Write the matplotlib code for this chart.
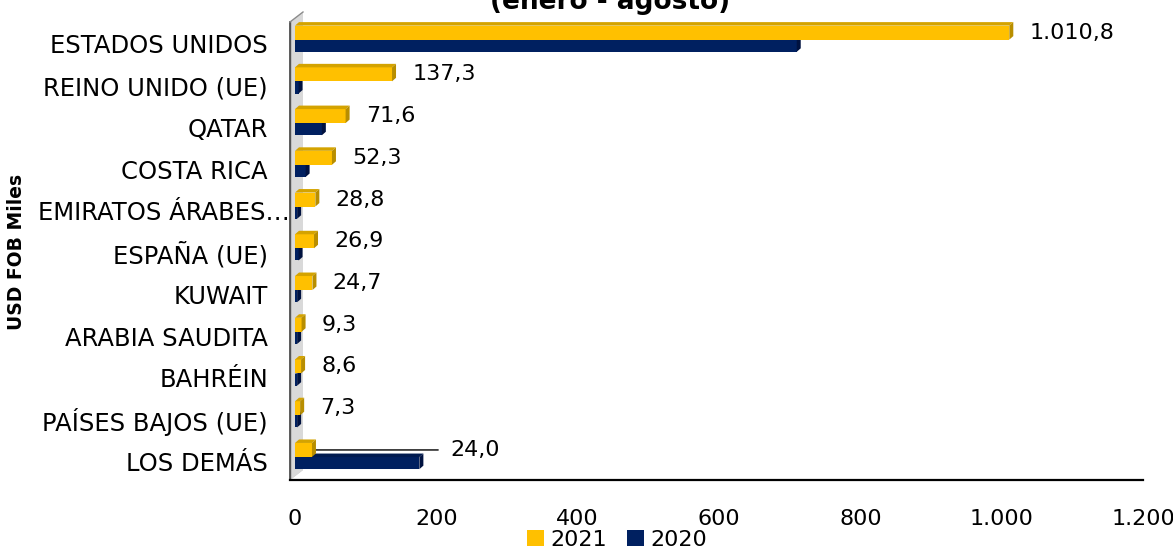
import matplotlib
matplotlib.use("Agg")
import matplotlib.pyplot as plt
from matplotlib.patches import Polygon, Patch
import matplotlib.transforms as mtransforms
import numpy as np

categories = ["ESTADOS UNIDOS", "REINO UNIDO (UE)", "QATAR", "COSTA RICA",
              "EMIRATOS ÁRABES…", "ESPAÑA (UE)", "KUWAIT", "ARABIA SAUDITA",
              "BAHRÉIN", "PAÍSES BAJOS (UE)", "LOS DEMÁS"]
values_2021 = [1010.8, 137.3, 71.6, 52.3, 28.8, 26.9, 24.7, 9.3, 8.6, 7.3, 24.0]
values_2020 = [710.0, 5.0, 38.0, 15.0, 3.0, 5.0, 3.0, 3.0, 3.0, 3.0, 176.0]
labels_2021 = ["1.010,8", "137,3", "71,6", "52,3", "28,8", "26,9", "24,7", "9,3", "8,6", "7,3", "24,0"]
xticks = [0, 200, 400, 600, 800, 1000, 1200]
xtick_labels = ["0", "200", "400", "600", "800", "1.000", "1.200"]
series_names = ["2021", "2020"]

YEL, YEL_TOP, YEL_SIDE = "#FFC000", "#D4A300", "#B88E00"
NAV, NAV_TOP, NAV_SIDE = "#002060", "#001A50", "#001240"

W, H = 1173, 551
fig = plt.figure(figsize=(W / 100, H / 100), dpi=100)
ax_left, ax_right, ax_top, ax_bot = 295, 1143, 18, 480
ax = fig.add_axes([ax_left / W, 1 - ax_bot / H, (ax_right - ax_left) / W, (ax_bot - ax_top) / H])

ymax_data = 10.45
ymin_data = -0.62
ax.set_xlim(0, 1200)
ax.set_ylim(ymax_data, ymin_data)

# depth of 3D faces in data units
px_x = 1200 / (ax_right - ax_left)
px_y = (ymax_data - ymin_data) / (ax_bot - ax_top)
ddx = 4 * px_x
ddy = 3.5 * px_y

y = np.arange(len(categories))
h21, h20 = 0.335, 0.29
c21 = y - 0.27
c20 = y + 0.045


def bar3d(vals, centers, height, front, top, side, z):
    ax.barh(centers, vals, height=height, color=front, zorder=z, linewidth=0)
    for v, c in zip(vals, centers):
        yt = c - height / 2
        yb = c + height / 2
        ax.add_patch(Polygon([(0, yt), (v, yt), (v + ddx, yt - ddy), (ddx, yt - ddy)],
                             closed=True, facecolor=top, edgecolor="none", zorder=z))
        ax.add_patch(Polygon([(v, yb), (v, yt), (v + ddx, yt - ddy), (v + ddx, yb - ddy)],
                             closed=True, facecolor=side, edgecolor="none", zorder=z))


bar3d(values_2020, c20, h20, NAV, NAV_TOP, NAV_SIDE, 3)
bar3d(values_2021, c21, h21, YEL, YEL_TOP, YEL_SIDE, 4)

# value labels
for i, (v, c, lab) in enumerate(zip(values_2021, c21, labels_2021)):
    if categories[i] == "LOS DEMÁS":
        ax.annotate(lab, xy=(v + ddx, c), xytext=(97, 0), textcoords="offset points",
                    va="center", ha="left", fontsize=16,
                    arrowprops=dict(arrowstyle="-", color="black", lw=1,
                                    shrinkA=7, shrinkB=0, relpos=(0, 0.5)))
    else:
        ax.annotate(lab, xy=(v, c), xytext=(14.5, 0), textcoords="offset points",
                    va="center", ha="left", fontsize=16)

ax.set_yticks(y)
ax.set_yticklabels(categories, fontsize=17.5)
ax.set_xticks(xticks)
ax.set_xticklabels(xtick_labels, fontsize=16)
ax.tick_params(axis="y", length=0, pad=19.5)
ax.tick_params(axis="x", length=0, pad=21)
for lbl in ax.get_yticklabels():
    if lbl.get_text().endswith("…"):
        lbl.set_transform(lbl.get_transform() +
                          mtransforms.ScaledTranslation(22 / 100, 0, fig.dpi_scale_trans))
for s in ["top", "right", "left"]:
    ax.spines[s].set_visible(False)
ax.spines["bottom"].set_linewidth(1.6)
ax.spines["bottom"].set_bounds(-5 * px_x, 1200)
ax.spines["bottom"].set_clip_on(False)

# back wall (gray slab)
wx0, wx1 = -5 * px_x, 8 * px_x
wall = Polygon([(wx0, ymax_data), (wx0, ymin_data + 4 * px_y),
                (wx1, ymin_data - 6 * px_y), (wx1, ymax_data - 10 * px_y)],
               closed=True, facecolor="#BDBDBD", edgecolor="none",
               zorder=2, clip_on=False)
ax.add_patch(wall)
wall_side = Polygon([(wx0 + 2 * px_x, ymax_data - 1.5 * px_y), (wx0 + 2 * px_x, ymin_data + 2.5 * px_y),
                     (wx1, ymin_data - 6 * px_y), (wx1, ymax_data - 10 * px_y)],
                    closed=True, facecolor="#D9D9D9", edgecolor="none",
                    zorder=2, clip_on=False)
ax.add_patch(wall_side)
ax.plot([wx0, wx0], [ymax_data, ymin_data + 4 * px_y], color="#404040", lw=1.2,
        zorder=2, clip_on=False)
ax.plot([wx0, wx1], [ymin_data + 4 * px_y, ymin_data - 6 * px_y], color="#8C8C8C", lw=1,
        zorder=2, clip_on=False)

fig.text(610 / W, 1 - 9 / H, "(enero - agosto)", ha="center", va="baseline",
         fontsize=19, fontweight="bold")
fig.text(17 / W, 1 - 252 / H, "USD FOB Miles", rotation=90, ha="center", va="center",
         fontsize=13.5, fontweight="bold")

handles = [Patch(facecolor=YEL), Patch(facecolor=NAV)]
fig.legend(handles, series_names, loc="center", bbox_to_anchor=(617 / W, 1 - 540 / H),
           ncol=2, frameon=False, fontsize=16, handlelength=0.75, handleheight=0.75,
           handletextpad=0.3, columnspacing=0.9, borderpad=0)

fig.savefig("out.png", dpi=100)
